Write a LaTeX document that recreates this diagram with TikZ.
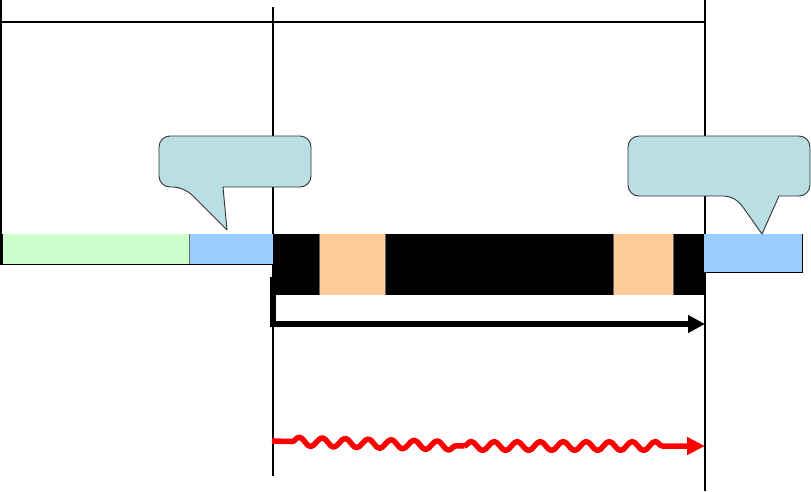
\documentclass[tikz,border=0pt]{standalone}
\usetikzlibrary{arrows.meta,decorations.pathmorphing}
\definecolor{greenc}{RGB}{204,255,204}
\definecolor{bluec}{RGB}{153,204,255}
\definecolor{orangec}{RGB}{255,204,153}
\definecolor{calloutc}{RGB}{185,223,229}
\begin{document}
\begin{tikzpicture}[x=1pt,y=-1pt,
  guide/.style={line width=1.1pt,black},
  seg/.style={inner sep=0pt,outer sep=0pt,anchor=north west,draw=none},
  edge/.style={line width=0.9pt,black},
  callout/.style={fill=calloutc,draw=black!80,line width=0.9pt,line join=round},
  timearrow/.style={line width=5.5pt,black,line join=miter,-{Triangle[length=17pt,width=17pt]}},
  wave/.style={line width=5.5pt,red,line join=round,decorate,decoration={snake,segment length=23pt,amplitude=4.5pt}}]
\useasboundingbox (0,0) rectangle (811,491);
% guide lines
\coordinate (lt) at (1,0);
\coordinate (lb) at (1,265);
\coordinate (mt) at (273,7);
\coordinate (mb) at (273,476);
\coordinate (rt) at (705,0);
\coordinate (rb) at (705,491);
\coordinate (hl) at (0,22);
\coordinate (hr) at (705,22);
\draw[guide] (lt) -- (lb);
\draw[guide] (mt) -- (mb);
\draw[guide] (rt) -- (rb);
\draw[guide] (hl) -- (hr);
% bar segments
\node[seg,fill=greenc,minimum width=187pt,minimum height=30pt] (g) at (2,234) {};
\node[seg,fill=bluec,minimum width=84pt,minimum height=30pt] (b1) at (189,234) {};
\node[seg,fill=black,minimum width=431pt,minimum height=61pt] (k) at (273,234) {};
\node[seg,fill=orangec,minimum width=66pt,minimum height=61pt] (o1) at (319,234) {};
\node[seg,fill=orangec,minimum width=60pt,minimum height=61pt] (o2) at (613,234) {};
\node[seg,fill=bluec,minimum width=98pt,minimum height=38pt] (b2) at (704,234) {};
\draw[edge] (g.north west) -- (g.south west) -- (b1.south east);
\draw[edge,black!60,line width=0.5pt] (g.north east) -- (g.south east);
\draw[edge] (b2.north east) -- (b2.south east) -- (b2.south west);
\draw[edge,black!60,line width=0.5pt] (o1.north west) -- (o1.south west) (o1.north east) -- (o1.south east);
\draw[edge,black!60,line width=0.5pt] (o2.north west) -- (o2.south west) (o2.north east) -- (o2.south east);
% callouts
\draw[callout] (227,230) -- (223,187) [rounded corners=11pt] -- (311,187) -- (311,136) -- (159,136) -- (159,187) -- (184,187) [sharp corners] -- cycle;
\draw[callout] (762,234) -- (779,196) [rounded corners=11pt] -- (810,196) -- (810,136) -- (628,136) -- (628,196) -- (735,196) [sharp corners] -- cycle;
% black arrow
\coordinate (s1) at (273,277);
\coordinate (c1) at (273,324);
\coordinate (e1) at (705,324);
\draw[timearrow] (s1) -- (c1) -- (e1);
% red wavy arrow
\coordinate (s2) at (272,441);
\coordinate (m2) at (464,446);
\coordinate (e2) at (705,446);
\draw[wave,decoration={pre length=20pt,post length=8pt}] (s2) -- (m2);
\draw[wave,decoration={pre length=0pt,post length=40pt},-{Triangle[length=18pt,width=17pt]}] (m2) -- (e2);
\end{tikzpicture}
\end{document}
